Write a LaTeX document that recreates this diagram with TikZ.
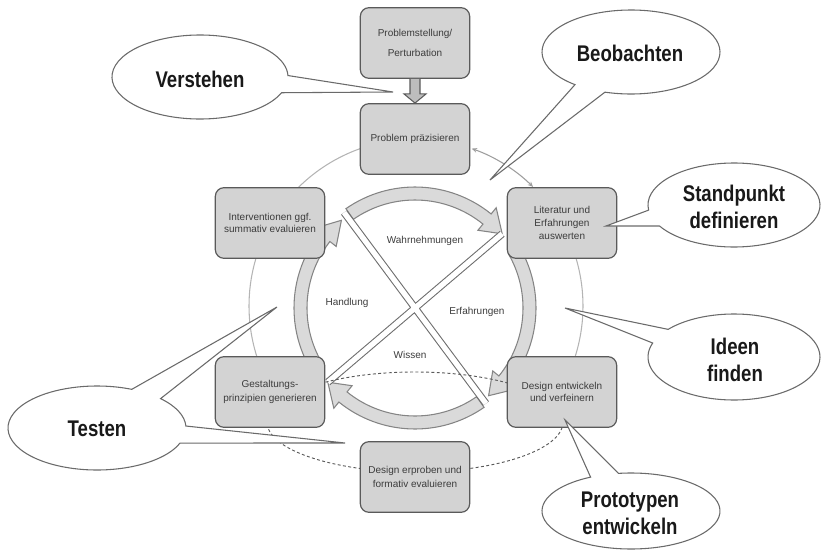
\documentclass[tikz,border=0pt]{standalone}
\usepackage{fontspec}
\setmainfont{Liberation Sans}
\newfontfamily\callfont[FakeStretch=0.82]{Liberation Sans}
\usetikzlibrary{calc,arrows.meta}
\definecolor{boxfill}{HTML}{D3D3D3}
\definecolor{boxline}{HTML}{5A5A5A}
\definecolor{boxtext}{HTML}{3C3C3C}
\definecolor{ringfill}{HTML}{DADADA}
\definecolor{ringline}{HTML}{858585}
\definecolor{thinline}{HTML}{B4B4B4}
\definecolor{calline}{HTML}{6A6A6A}
\definecolor{barline}{HTML}{6E6E6E}
\definecolor{arrowfill}{HTML}{BDBDBD}
\newcommand\RingArrow[3]{%
  \draw[ringarrow] ($(rc)+(#1:121)$) arc[start angle=#1,end angle=#2,radius=121]
    -- ($(rc)+(#2:129)$) -- ($(rc)+(#3:114.5)$) -- ($(rc)+(#2:100)$)
    -- ($(rc)+(#2:108)$) arc[start angle=#2,end angle=#1,radius=108] -- cycle;}
\begin{document}
\begin{tikzpicture}[x=0.75pt,y=-0.75pt,
  stepbox/.style={draw=boxline, fill=boxfill, line width=0.9pt, rounded corners=6.5pt,
    minimum width=82pt, minimum height=53pt, align=center, text=boxtext, inner sep=2pt},
  ringarrow/.style={draw=ringline, fill=ringfill, line width=0.8pt, line join=miter},
  thinarc/.style={draw=thinline, line width=0.8pt},
  dashline/.style={draw=boxline, line width=0.7pt, dash pattern=on 2.2pt off 1.8pt},
  callout/.style={draw=calline, fill=white, line width=0.8pt, line join=miter},
  calltext/.style={font=\callfont\bfseries\fontsize{17}{20}\selectfont, align=center, text=black!90},
  ringlabel/.style={font=\fontsize{7.5}{9}\selectfont, text=boxtext},
  >={Stealth[length=4pt,width=3.5pt]}]
\useasboundingbox (0,0) rectangle (822,550);
\coordinate (oc) at (416,306);
\coordinate (rc) at (415,308);
% thin outer circle arcs
\draw[thinarc] ($(oc)+(-135:167)$) arc[start angle=-135,end angle=-109.5,radius=167];
\draw[thinarc,<->,draw=ringline!80] ($(oc)+(-70.5:167)$) arc[start angle=-70.5,end angle=-45.5,radius=167];
\draw[thinarc] ($(oc)+(150:167)$) arc[start angle=150,end angle=210,radius=167];
\draw[thinarc] ($(oc)+(-30:167)$) arc[start angle=-30,end angle=30,radius=167];
% ring arrows
\RingArrow{-124.8}{-51}{-40.4}
\RingArrow{-30}{39}{50}
\RingArrow{55.2}{129}{139.6}
\RingArrow{150}{218}{230}
% diagonal bars
\coordinate (b1a) at ($(rc)+(-126.6:119)$);
\coordinate (b1b) at ($(rc)+(53.4:119)$);
\coordinate (b2a) at ($(rc)+(-40.4:114.5)$);
\coordinate (b2b) at ($(rc)+(139.6:114.5)$);
\draw[line width=5.6pt, draw=barline] (b1a) -- (b1b) (b2a) -- (b2b);
\draw[line width=4pt, draw=white] (b1a) -- (b1b) (b2a) -- (b2b);
% ring labels
\node[ringlabel] (lW) at (425,241) {Wahrnehmungen};
\node[ringlabel] (lH) at (347,303) {Handlung};
\node[ringlabel] (lE) at (477,312) {Erfahrungen};
\node[ringlabel] (lK) at (410,355) {Wissen};
% dashed ellipse
\draw[dashline] (415,422) ellipse[x radius=148, y radius=50];
% boxes
\node[stepbox, font=\fontsize{7.5}{15}\selectfont] (P0) at (415,43) {Problemstellung/\\Perturbation};
\node[stepbox, font=\fontsize{7.5}{10}\selectfont] (P1) at (415,139) {Problem präzisieren};
\node[stepbox, font=\fontsize{7.5}{10}\selectfont] (P2) at (562,223) {Literatur und\\Erfahrungen\\auswerten};
\node[stepbox, font=\fontsize{7.5}{9}\selectfont] (P3) at (562,392) {Design entwickeln\\und verfeinern};
\node[stepbox, font=\fontsize{7.5}{10.5}\selectfont] (P4) at (415,477) {Design erproben und\\formativ evaluieren};
\node[stepbox, font=\fontsize{7.5}{10}\selectfont] (P5) at (270,392) {Gestaltungs-\\prinzipien generieren};
\node[stepbox, font=\fontsize{7.5}{8.8}\selectfont] (P6) at (270,223) {Interventionen ggf.\\summativ evaluieren};
% thick arrow
\draw[fill=arrowfill, draw=boxline, line width=0.8pt, line join=miter]
  ($(P0.south)+(-5,0)$) -- ($(P0.south)+(-5,15)$) -- ($(P0.south)+(-11,15)$) -- (P1.north)
  -- ($(P0.south)+(11,15)$) -- ($(P0.south)+(5,15)$) -- ($(P0.south)+(5,0)$);
% callouts
\coordinate (cV) at (200,77);  \coordinate (tV) at (393,92);
\coordinate (cB) at (631,52);  \coordinate (tB) at (490,180);
\coordinate (cS) at (734,205); \coordinate (tS) at (606,226);
\coordinate (cI) at (734,357); \coordinate (tI) at (565,308);
\coordinate (cP) at (631,511); \coordinate (tP) at (565,420);
\coordinate (cT) at (97,428);  \coordinate (tT1) at (277,307); \coordinate (tT2) at (345,443);
\draw[callout] ($(cV)+(22:88 and 42)$) arc[start angle=22,end angle=358,x radius=88,y radius=42] -- (tV) -- cycle;
\draw[callout] ($(cB)+(129:89 and 42)$) arc[start angle=129,end angle=467,x radius=89,y radius=42] -- (tB) -- cycle;
\draw[callout] ($(cS)+(173:86 and 42)$) arc[start angle=173,end angle=510,x radius=86,y radius=42] -- (tS) -- cycle;
\draw[callout] ($(cI)+(220:86 and 43)$) arc[start angle=220,end angle=559,x radius=86,y radius=43] -- (tI) -- cycle;
\draw[callout] ($(cP)+(262:89 and 38)$) arc[start angle=262,end angle=603,x radius=89,y radius=38] -- (tP) -- cycle;
\draw[callout] ($(cT)+(21:89 and 42)$) arc[start angle=21,end angle=293,x radius=89,y radius=42] -- (tT1)
  -- ($(cT)+(315.6:89 and 42)$) arc[start angle=315.6,end angle=357.3,x radius=89,y radius=42] -- (tT2) -- cycle;
\node[calltext] (V) at (200,79) {Verstehen};
\node[calltext] (B) at (630,53) {Beobachten};
\node[calltext] (S) at (734,207) {Standpunkt\\definieren};
\node[calltext] (I) at (735,360) {Ideen\\finden};
\node[calltext] (Pr) at (630,513) {Prototypen\\entwickeln};
\node[calltext] (T) at (97,429) {Testen};
\end{tikzpicture}
\end{document}
